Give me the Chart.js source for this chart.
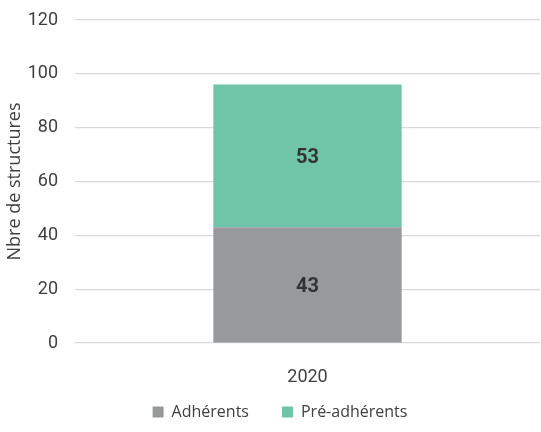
<!DOCTYPE html>
<html>
<head>
<meta charset="utf-8">
<script src="https://cdn.jsdelivr.net/npm/chart.js@4/dist/chart.umd.min.js"></script>
<style>
html,body{margin:0;padding:0;background:#fff;}
#wrap{width:541px;height:432px;position:relative;}
</style>
</head>
<body>
<div id="wrap"><canvas id="c"></canvas></div>
<script>
const categories = ["2020"];
const adherents = [43];
const preAdherents = [53];
const seriesNames = ["Adhérents", "Pré-adhérents"];
const yTicks = [0, 20, 40, 60, 80, 100, 120];

const labelPlugin = {
  id: 'barLabels',
  afterLayout(chart) {
    const lg = chart.legend;
    if (lg) {
      lg.left += 8; lg.right += 8;
      lg.top -= 19; lg.bottom = chart.height; lg.height = lg.bottom - lg.top;
    }
  },
  afterDatasetsDraw(chart) {
    const ctx = chart.ctx;
    ctx.save();
    ctx.font = 'bold 20px "Roboto", sans-serif';
    ctx.fillStyle = '#333333';
    ctx.textAlign = 'center';
    ctx.textBaseline = 'middle';
    chart.data.datasets.forEach((ds, i) => {
      const meta = chart.getDatasetMeta(i);
      meta.data.forEach((bar, j) => {
        const p = bar.getProps(['x', 'y', 'base'], true);
        ctx.fillText(String(ds.data[j]), p.x, (p.y + p.base) / 2 + 2);
      });
    });
    ctx.restore();
  }
};

new Chart(document.getElementById('c'), {
  type: 'bar',
  data: {
    labels: categories,
    datasets: [
      { label: seriesNames[0], data: adherents, backgroundColor: '#98999b', borderWidth: 0 },
      { label: seriesNames[1], data: preAdherents, backgroundColor: '#70c5a8', borderWidth: 0 }
    ]
  },
  options: {
    responsive: true,
    maintainAspectRatio: false,
    animation: false,
    devicePixelRatio: 1,
    layout: { padding: { top: 20, right: 1, left: 4, bottom: 2 } },
    datasets: { bar: { categoryPercentage: 1.0, barPercentage: 0.405 } },
    scales: {
      x: {
        stacked: true,
        grid: { display: false, drawTicks: false },
        border: { display: false },
        ticks: { color: '#404040', font: { family: '"Roboto", sans-serif', size: 18 }, padding: 24 },
        afterFit(axis) { axis.height = 47; }
      },
      y: {
        stacked: true,
        min: 0, max: 120,
        afterBuildTicks(axis) { axis.ticks = yTicks.map(v => ({ value: v })); },
        grid: { color: '#d9d9d9', lineWidth: 1.2, drawTicks: false },
        border: { display: false },
        ticks: { color: '#404040', font: { family: '"Roboto", sans-serif', size: 18 }, padding: 17 },
        title: { display: true, text: 'Nbre de structures', color: '#404040', font: { family: '"Open Sans", sans-serif', size: 18 }, padding: { top: 0, bottom: 0 } },
        afterFit(axis) { axis.width = 71; axis.paddingTop = 0; axis.paddingBottom = 0; }
      }
    },
    plugins: {
      legend: {
        position: 'bottom',
        maxHeight: 40,
        labels: { color: '#404040', boxWidth: 11, boxHeight: 11, padding: 33, font: { family: '"Open Sans", sans-serif', size: 16 } }
      },
      tooltip: { enabled: false }
    }
  },
  plugins: [labelPlugin]
});
</script>
</body>
</html>
